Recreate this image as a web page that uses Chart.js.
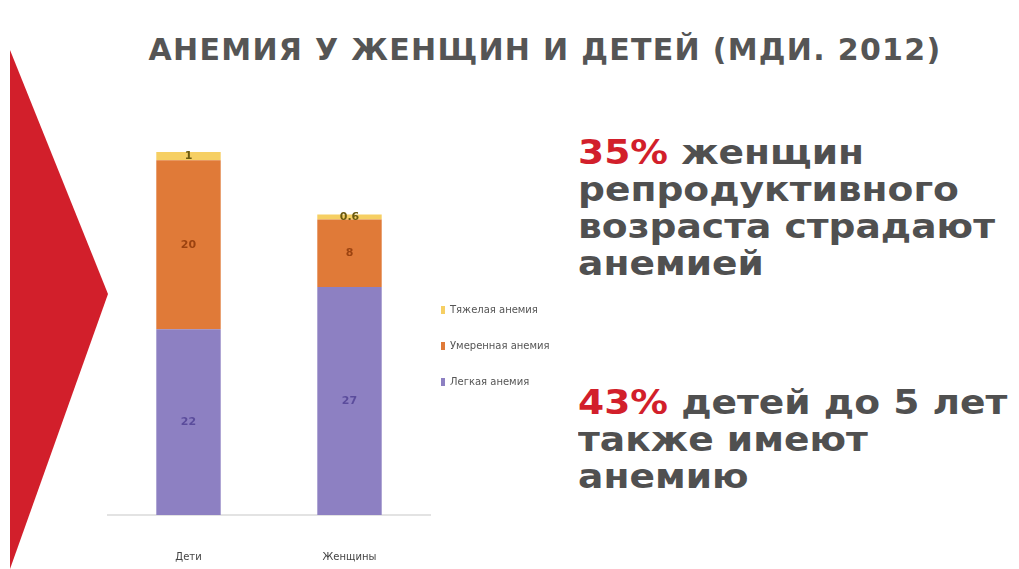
<!DOCTYPE html>
<html>
<head>
<meta charset="utf-8">
<script src="https://cdn.jsdelivr.net/npm/chart.js@4.4.0/dist/chart.umd.min.js"></script>
<style>
  body { margin: 0; background: #fff; width: 1019px; height: 569px; overflow: hidden; position: relative; font-family: "DejaVu Sans", sans-serif; }
  #arrow { position: absolute; left: 10px; top: 50px; width: 100px; height: 519px; background: #d21f2b;
           clip-path: polygon(0 0, 98% 47%, 0 100%); }
  #title { position: absolute; left: 0; width: 1090px; top: 32px; text-align: center; font-weight: bold; font-size: 30px; color: #555; letter-spacing: 1.3px; }
  .note { position: absolute; left: 578px; font-weight: bold; font-size: 33px; line-height: 37px; color: #505050;
          transform: scaleX(1.14); transform-origin: 0 0; white-space: nowrap; }
  .note b { color: #d21f2b; }
  #wrap { position: absolute; left: 100px; top: 130px; width: 470px; height: 469px; }
</style>
</head>
<body>
<div id="arrow"></div>
<div id="title">АНЕМИЯ У ЖЕНЩИН И ДЕТЕЙ (МДИ. 2012)</div>
<div class="note" style="top:134px"><b>35%</b> женщин<br>репродуктивного<br>возраста страдают<br>анемией</div>
<div class="note" style="top:384px"><b>43%</b> детей до 5 лет<br>также имеют<br>анемию</div>
<div id="wrap"><canvas id="c"></canvas></div>
<script>
// categories and series
const groups = ['Дети', 'Женщины'];
const mild = [22, 27];
const moderate = [20, 8];
const severe = [1, 0.6];
const seriesNames = ['Легкая анемия', 'Умеренная анемия', 'Тяжелая анемия'];

// draws the value inside each bar segment
const valueLabels = {
    id: 'valueLabels',
    afterDatasetsDraw(chart) {
        const ctx = chart.ctx;
        const inks = ['#5b4c9c', '#9c4310', '#6b5a10'];
        chart.data.datasets.forEach((ds, i) => {
            chart.getDatasetMeta(i).data.forEach((bar, j) => {
                const p = bar.getProps(['x', 'y', 'base'], true);
                ctx.save();
                ctx.fillStyle = inks[i];
                ctx.font = 'bold 11px "DejaVu Sans"';
                ctx.textAlign = 'center';
                ctx.textBaseline = 'middle';
                ctx.fillText(String(ds.data[j]), p.x, (p.y + p.base) / 2);
                ctx.restore();
            });
        });
    }
};

// small legend to the right of the plot, top item = top segment
const sideLegend = {
    id: 'sideLegend',
    afterDraw(chart) {
        const ctx = chart.ctx;
        const area = chart.chartArea;
        const x = area.right + 11;
        const mid = area.bottom - 169;
        const list = chart.data.datasets.slice().reverse();
        ctx.save();
        ctx.font = '10px "DejaVu Sans"';
        ctx.textBaseline = 'middle';
        list.forEach((ds, k) => {
            const y = mid + (k - 1) * 36;
            ctx.fillStyle = ds.backgroundColor;
            ctx.fillRect(x, y - 4, 4, 8);
            ctx.fillStyle = '#555';
            ctx.fillText(ds.label, x + 9, y);
        });
        ctx.restore();
    }
};

new Chart(document.getElementById('c'), {
    type: 'bar',
    data: {
        labels: groups,
        datasets: [
            { label: seriesNames[0], data: mild, backgroundColor: '#8d80c2' },
            { label: seriesNames[1], data: moderate, backgroundColor: '#e07a38' },
            { label: seriesNames[2], data: severe, backgroundColor: '#f6cf63' }
        ]
    },
    options: {
        responsive: true,
        maintainAspectRatio: false,
        animation: false,
        layout: { padding: { left: 8, top: 5, right: 140, bottom: 0 } },
        datasets: { bar: { barPercentage: 0.4, categoryPercentage: 1 } },
        plugins: {
            legend: { display: false },
            tooltip: { enabled: false }
        },
        scales: {
            x: {
                stacked: true,
                grid: { display: false, drawTicks: false },
                border: { color: '#e3e3e3', width: 2 },
                ticks: { color: '#444', padding: 36, font: { size: 10, family: 'DejaVu Sans' } }
            },
            y: { stacked: true, display: false, min: 0, max: 45 }
        }
    },
    plugins: [valueLabels, sideLegend]
});
</script>
</body>
</html>
